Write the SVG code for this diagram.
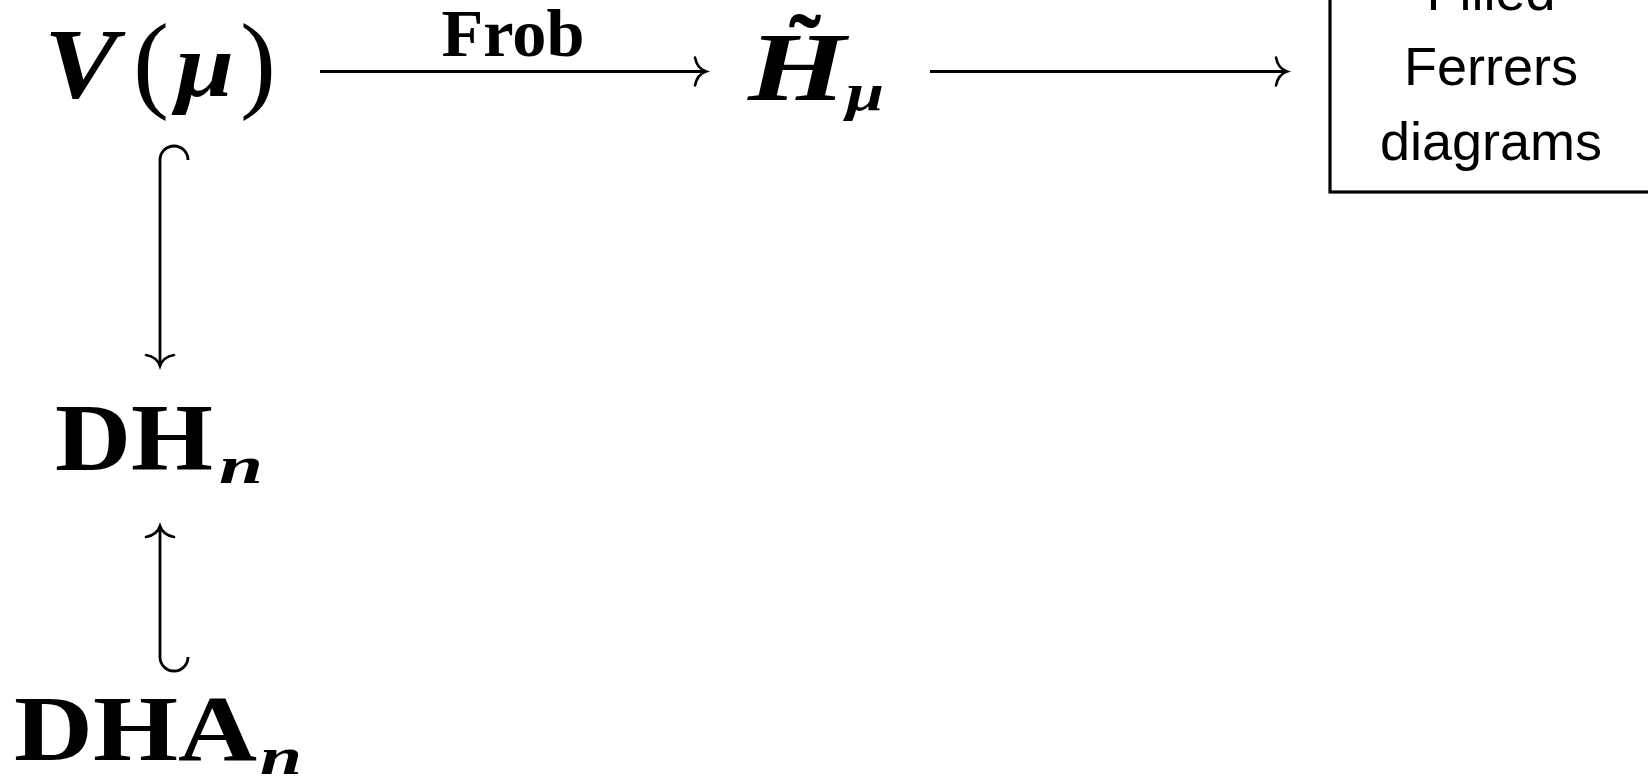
<svg xmlns="http://www.w3.org/2000/svg" width="1648" height="781" viewBox="0 0 1648 781">
<style>
.bf{font-family:"Liberation Serif","Times New Roman",serif;font-weight:bold;fill:#000}
.rm{font-family:"Liberation Serif","Times New Roman",serif;font-weight:normal;fill:#000}
.bi{font-family:"Liberation Serif","Times New Roman",serif;font-weight:bold;font-style:italic;fill:#000}
.sans{font-family:"Liberation Sans",Arial,sans-serif;font-size:54px;fill:#000;text-anchor:middle}
.ln{stroke:#000;stroke-width:2.8;fill:none;stroke-linecap:butt}
.box{stroke:#000;stroke-width:3.2;fill:#fff}
</style>
<defs>
<marker id="to" markerUnits="userSpaceOnUse" orient="auto" markerWidth="30" markerHeight="34" viewBox="-15 -17 17 34" refX="0" refY="0" overflow="visible">
<path d="M-11,-14 Q-9,-3 0,0 Q-9,3 -11,14" fill="none" stroke="#000" stroke-width="2.6" stroke-linecap="round"/>
</marker>
</defs>
<rect width="1648" height="781" fill="#fff"/>
<g id="connectors">
<path class="ln" d="M320,71.5 H706" marker-end="url(#to)"/>
<text class="bf" x="513" y="56" font-size="68" text-anchor="middle" textLength="143" lengthAdjust="spacingAndGlyphs">Frob</text>
<path class="ln" d="M930,71.5 H1287" marker-end="url(#to)"/>
<path class="ln" d="M188,160 A14,14 0 0 0 160,160 V366" marker-end="url(#to)"/>
<path class="ln" d="M188,657 A14,14 0 0 1 160,657 V526" marker-end="url(#to)"/>
</g>
<g id="node-V">
<text class="bi" x="44" y="97" font-size="100" textLength="74" lengthAdjust="spacingAndGlyphs">V</text>
<text class="rm" x="133" y="98" font-size="108">(</text>
<text class="bi" x="176" y="96" font-size="90" textLength="58" lengthAdjust="spacingAndGlyphs">μ</text>
<text class="rm" x="240" y="98" font-size="108">)</text>
</g>
<g id="node-H">
<text class="bi" x="748" y="100" font-size="98" textLength="98" lengthAdjust="spacingAndGlyphs">H</text>
<text class="bf" x="805" y="80" font-size="96" text-anchor="middle">˜</text>
<text class="bi" x="846" y="110" font-size="52" textLength="38" lengthAdjust="spacingAndGlyphs">μ</text>
</g>
<g id="node-box">
<rect class="box" x="1330" y="-20" width="340" height="212"/>
<text class="sans" x="1491" y="10">Filled</text>
<text class="sans" x="1491" y="85">Ferrers</text>
<text class="sans" x="1491" y="160">diagrams</text>
</g>
<g id="node-DH">
<text class="bf" x="55" y="470" font-size="95" textLength="158" lengthAdjust="spacingAndGlyphs">DH</text>
<text class="bi" x="219" y="483" font-size="52" textLength="44" lengthAdjust="spacingAndGlyphs">n</text>
</g>
<g id="node-DHA">
<text class="bf" x="14" y="760" font-size="94" textLength="243" lengthAdjust="spacingAndGlyphs">DHA</text>
<text class="bi" x="260" y="774" font-size="52" textLength="42" lengthAdjust="spacingAndGlyphs">n</text>
</g>
</svg>
